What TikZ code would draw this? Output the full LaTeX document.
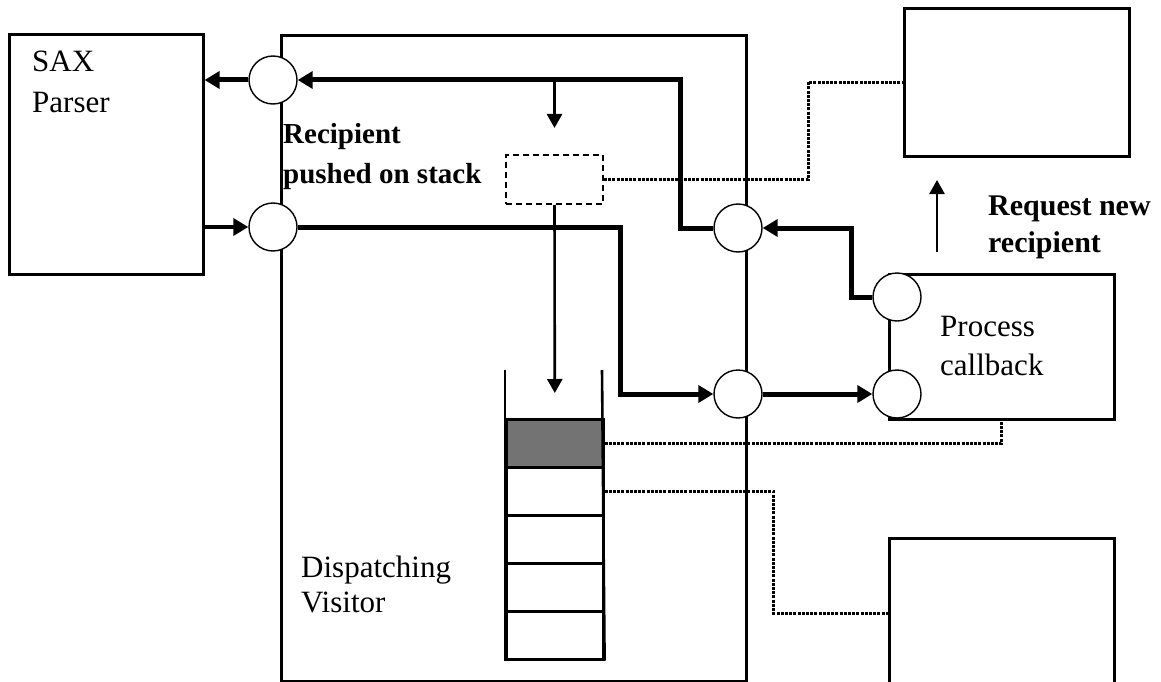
\documentclass[tikz,border=0pt]{standalone}
\usepackage{fontspec}
\setmainfont{Liberation Serif}
\usetikzlibrary{arrows.meta}
\tikzset{
  box/.style={draw, line width=2.6pt, inner sep=0pt, anchor=north west},
  port/.style={circle, draw, fill=white, line width=1.4pt, minimum size=48pt, inner sep=0pt},
  flow/.style={line width=5pt, -{Triangle[length=15pt,width=17pt]}},
  thinarrow/.style={line width=2.6pt, -{Triangle[length=14pt,width=15pt]}},
  link/.style={line width=3pt, dash pattern=on 3pt off 1.2pt},
  lbl/.style={anchor=base west, inner sep=0pt, font=\fontsize{31}{31}\selectfont},
  blbl/.style={anchor=base west, inner sep=0pt, font=\fontsize{29}{29}\selectfont\bfseries},
  cell/.style={draw, line width=2.6pt, inner sep=0pt, minimum width=97pt, minimum height=48pt, anchor=north west}
}
\begin{document}
\begin{tikzpicture}[x=1pt, y=-1pt]
\clip (0,0) rectangle (1161,682);
\fill[white] (0,0) rectangle (1161,682);
% boxes
\node[box, minimum width=194pt, minimum height=240pt] (sax) at (8,33) {};
\node[box, minimum width=465pt, minimum height=646pt] (disp) at (280,34) {};
\node[box, minimum width=225pt, minimum height=148pt] (rt) at (903,7) {};
\node[box, minimum width=225pt, minimum height=145pt] (proc) at (888,273) {};
\node[box, minimum width=225pt, minimum height=150pt] (rb) at (888,537) {};
% dashed recipient box
\node[draw, dashed, dash pattern=on 6pt off 4pt, line width=2pt, inner sep=0pt, minimum width=97pt, minimum height=49pt, anchor=north west] (dash) at (505,154) {};
% stack
\node[cell, fill=black!55] (c1) at (505,418) {};
\node[cell] (c2) at (505,466) {};
\node[cell] (c3) at (505,514) {};
\node[cell] (c4) at (505,562) {};
\node[cell] (c5) at (505,610) {};
\coordinate (stl) at (505,370);
\coordinate (str) at (602,370);
\draw[line width=2.6pt] (stl) -- (c5.south west);
\draw[line width=2.6pt] (str) -- (c5.south east);
% ports
\node[port] (pl1) at (273,80) {};
\node[port] (pl2) at (273,227) {};
\node[port] (pr1) at (738,228) {};
\node[port] (pr2) at (738,394) {};
\node[port] (pp1) at (897,297) {};
\node[port] (pp2) at (897,394) {};
% texts
\node[lbl] (t1) at (32,72) {SAX};
\node[lbl] (t2) at (32,113) {Parser};
\node[blbl] (t3) at (283,143) {Recipient};
\node[blbl] (t4) at (283,183) {pushed on stack};
\node[lbl] (t5) at (940,336) {Process};
\node[lbl] (t6) at (940,375) {callback};
\node[lbl] (t7) at (301,577) {Dispatching};
\node[lbl] (t8) at (301,612) {Visitor};
\node[blbl, font=\fontsize{30}{30}\selectfont\bfseries] (t9) at (988,215) {Request new};
\node[blbl, font=\fontsize{30}{30}\selectfont\bfseries] (t10) at (988,252) {recipient};
% flows
\draw[flow] (pl1.west) -- (sax.east |- pl1);
\draw[flow, line width=4pt] (sax.east |- pl2) -- (pl2.west);
\draw[flow] (pr1.west) -- ++(-33,0) |- (pl1.east);
\draw[flow] (pl2.east) -- ++(323,0) |- (pr2.west);
\draw[flow] (pp1.west) -- ++(-21,0) |- (pr1.east);
\draw[flow] (pr2.east) -- (pp2.west);
% thin arrows
\coordinate (dtop) at (dash.north |- pl1);
\coordinate (dtip) at ([yshift=26pt]dash.north);
\draw[thinarrow] (dtop) -- (dtip);
\coordinate (stip) at ([yshift=25pt]c1.north);
\draw[thinarrow] (dash.south) -- (stip);
\coordinate (reqA) at (937,252);
\coordinate (reqB) at (937,180);
\draw[thinarrow] (reqA) -- (reqB);
% dotted links
\draw[link] (dash.east) -- ++(204,0) |- (rt.west);
\draw[link] (c1.east) -| (proc.south);
\draw[link] (c2.east) -- ++(169,0) |- (rb.west);
\end{tikzpicture}
\end{document}
